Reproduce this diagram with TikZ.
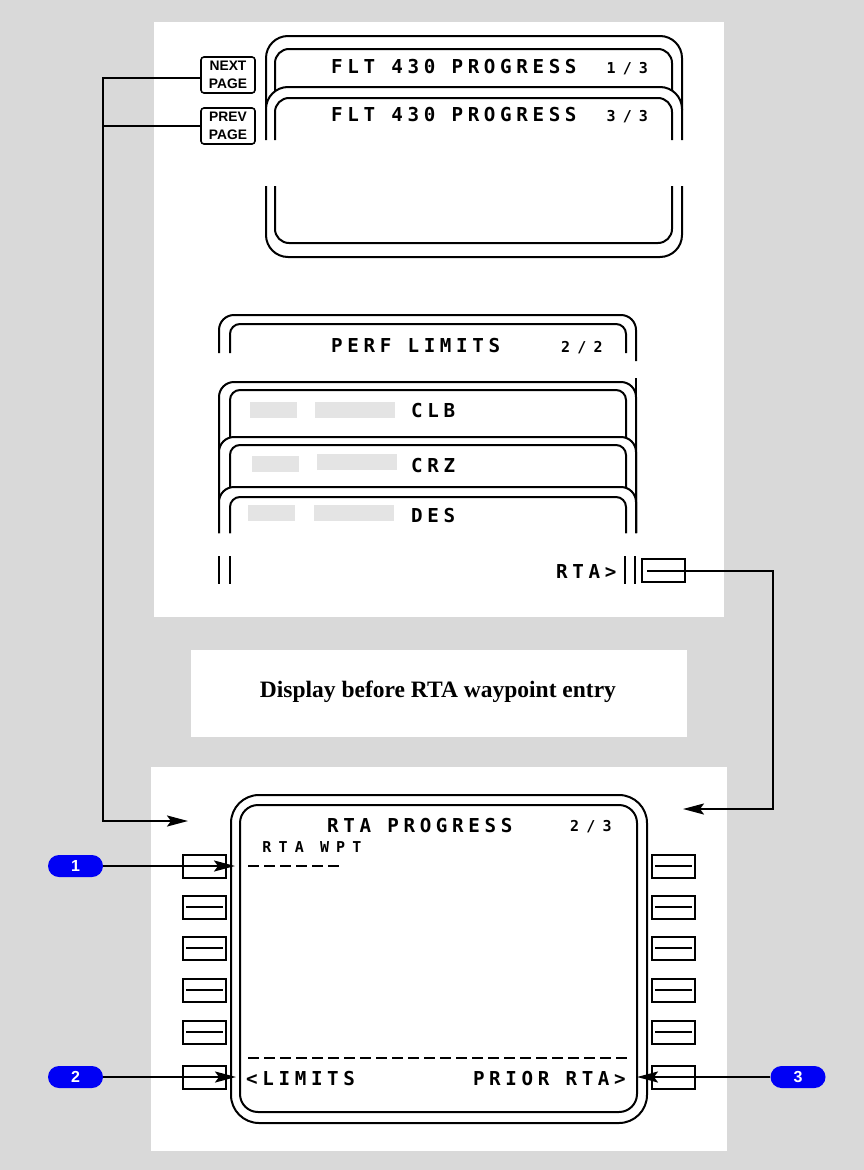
\documentclass[tikz,border=0pt]{standalone}
\usepackage{fontspec}
\setmainfont{Liberation Serif}
\newfontfamily\cduBig[LetterSpace=24.2]{DejaVu Sans Mono}
\newfontfamily\cduSmall[LetterSpace=47.8]{DejaVu Sans Mono}
\newfontfamily\keyfont{Liberation Sans}
\usetikzlibrary{arrows.meta}
\definecolor{bgray}{HTML}{D9D9D9}
\definecolor{blockgray}{HTML}{E4E4E4}
\definecolor{calloutblue}{RGB}{0,0,245}
\tikzset{
  scr/.style={line width=2pt},
  cdubig/.style={font=\cduBig\bfseries\fontsize{19.2}{20}\selectfont, inner sep=0pt, anchor=base west},
  cdusmall/.style={font=\cduSmall\bfseries\fontsize{15}{16}\selectfont, inner sep=0pt, anchor=base west},
  lsk/.style={draw, line width=2pt, minimum width=43pt, minimum height=23pt, inner sep=0pt},
  pagekey/.style={draw, line width=1.6pt, rounded corners=3pt, minimum width=54pt, minimum height=36pt, inner sep=0pt, align=center, font=\keyfont\bfseries\fontsize{13.8}{18.3}\selectfont},
  callout/.style={fill=calloutblue, rounded corners=11pt, minimum width=55pt, minimum height=22pt, inner sep=0pt, text=white, font=\keyfont\bfseries\fontsize{16}{16}\selectfont},
  conn/.style={line width=2.2pt},
  arr/.style={conn, -{Stealth[length=21pt,width=11pt,inset=4pt]}},
  grayblk/.style={fill=blockgray},
  dashrow/.style={line width=2.2pt, dash pattern=on 11pt off 5pt},
}
\begin{document}
\begin{tikzpicture}[x=1pt,y=-1pt]
\useasboundingbox (0,0) rectangle (864,1170);
\fill[bgray] (0,0) rectangle (864,1170);
\fill[white] (154,22) rectangle (724,617);
\fill[white] (191,650) rectangle (687,737);
\fill[white] (151,767) rectangle (727,1151);

% ---------- progress pages ----------
\draw[scr, rounded corners=22] (266,110) -- (266,36) -- (682,36) -- (682,110);
\draw[scr, rounded corners=14] (275,110) -- (275,49) -- (672,49) -- (672,110);
\node[cdubig] (p1title) at (331,73) {FLT 430 PROGRESS};
\node[cdusmall] (p1pg) at (606.4,73) {1/3};

\fill[white, rounded corners=22] (266,87) rectangle (682,257);
\draw[scr, rounded corners=22] (266,140) -- (266,87) -- (682,87) -- (682,140);
\draw[scr, rounded corners=22] (266,186) -- (266,257) -- (682,257) -- (682,186);
\draw[scr, rounded corners=14] (275,140) -- (275,98) -- (672,98) -- (672,140);
\draw[scr, rounded corners=14] (275,186) -- (275,243) -- (672,243) -- (672,186);
\node[cdubig] (p3title) at (331,121) {FLT 430 PROGRESS};
\node[cdusmall] (p3pg) at (606.4,121) {3/3};

\node[pagekey] (nextkey) at (228,75) {NEXT\\PAGE};
\node[pagekey] (prevkey) at (228,126) {PREV\\PAGE};

% ---------- perf limits ----------
\draw[scr, rounded corners=15] (219,353) -- (219,315) -- (636,315) -- (636,361);
\draw[scr, rounded corners=10] (230,353) -- (230,324) -- (626,324) -- (626,353);
\node[cdubig] (perftitle) at (331,352) {PERF LIMITS};
\node[cdusmall] (perfpg) at (561,352) {2/2};

\draw[scr] (636,378) -- (636,400);
\filldraw[scr, fill=white, rounded corners=15] (219,533) -- (219,382) -- (636,382) -- (636,533);
\draw[scr, rounded corners=10] (230,533) -- (230,390) -- (626,390) -- (626,533);
\fill[grayblk] (250,402) rectangle (297,418);
\fill[grayblk] (315,402) rectangle (395,418);
\node[cdubig] (clb) at (411,417) {CLB};

\filldraw[scr, fill=white, rounded corners=15] (219,533) -- (219,437) -- (636,437) -- (636,533);
\draw[scr, rounded corners=10] (230,533) -- (230,445) -- (626,445) -- (626,533);
\fill[grayblk] (252,456) rectangle (299,472);
\fill[grayblk] (317,454) rectangle (397,470);
\node[cdubig] (crz) at (411,472) {CRZ};

\filldraw[scr, fill=white, rounded corners=15] (219,533) -- (219,487) -- (636,487) -- (636,533);
\draw[scr, rounded corners=10] (230,533) -- (230,497) -- (626,497) -- (626,533);
\fill[grayblk] (248,505) rectangle (295,521);
\fill[grayblk] (314,505) rectangle (394,521);
\node[cdubig] (des) at (411,522) {DES};

\draw[scr] (219,556) -- (219,584);
\draw[scr] (229.5,556) -- (229.5,584);
\draw[scr] (625,556) -- (625,584);
\draw[scr] (634.5,556) -- (634.5,584);
\node[cdubig] (rtalbl) at (556,578) {RTA>};
\node[lsk] (rtakey) at (663.5,570.5) {};

% ---------- caption ----------
\node[font=\bfseries\fontsize{23.5}{26}\selectfont, inner sep=0pt] (caption) at (438,692) {Display before RTA waypoint entry};

% ---------- RTA progress ----------
\draw[scr, rounded corners=28] (231,795) rectangle (647,1123);
\draw[scr, rounded corners=18] (240,805) rectangle (637,1112);
\node[cdubig] (rtatitle) at (327,832) {RTA PROGRESS};
\node[cdusmall] (rtapg) at (570,831) {2/3};
\node[cdusmall] (rtawpt) at (262.2,852) {RTA WPT};
\coordinate (boxA) at (248,866);
\coordinate (boxB) at (339,866);
\draw[dashrow] (boxA) -- (boxB);
\coordinate (sepA) at (248,1058);
\coordinate (sepB) at (628,1058);
\draw[dashrow] (sepA) -- (sepB);
\node[cdubig] (limits) at (246,1085) {<LIMITS};
\node[cdubig] (prior) at (472.8,1085) {PRIOR RTA>};

\foreach \n/\y in {1/866,2/907,3/948,4/990,5/1032,6/1077}{
  \node[lsk] (L\n) at (204.5,\y) {};
  \node[lsk] (R\n) at (673.5,\y) {};
}
\foreach \n in {2,3,4,5}{
  \draw[line width=2pt] ([xshift=4pt]L\n.west) -- ([xshift=-4pt]L\n.east);
}
\foreach \n in {1,2,3,4,5}{
  \draw[line width=2pt] ([xshift=4pt]R\n.west) -- ([xshift=-4pt]R\n.east);
}

% ---------- callouts ----------
\node[callout] (c1) at (75.5,866) {1};
\node[callout] (c2) at (75.5,1077) {2};
\node[callout] (c3) at (798,1077) {3};
\coordinate (c1tip) at (235,866);
\coordinate (c2tip) at (236,1077);
\coordinate (c3tip) at (637,1077);
\draw[arr] (c1.east) -- (c1tip);
\draw[arr] (c2.east) -- (c2tip);
\draw[arr] (c3.west) -- (c3tip);

% ---------- page connectors ----------
\coordinate (busTop) at (103,78);
\coordinate (busBot) at (103,821);
\coordinate (leftIn) at (188,821);
\draw[arr] (nextkey.west |- busTop) -- (busTop) -- (busBot) -- (leftIn);
\draw[conn] (prevkey.west) -- (prevkey.west -| busTop);

\coordinate (rtaStart) at (647,571);
\coordinate (rbusTop) at (773,571);
\coordinate (rbusBot) at (773,809);
\coordinate (rightIn) at (683,809);
\draw[arr] (rtaStart) -- (rbusTop) -- (rbusBot) -- (rightIn);
\end{tikzpicture}
\end{document}
